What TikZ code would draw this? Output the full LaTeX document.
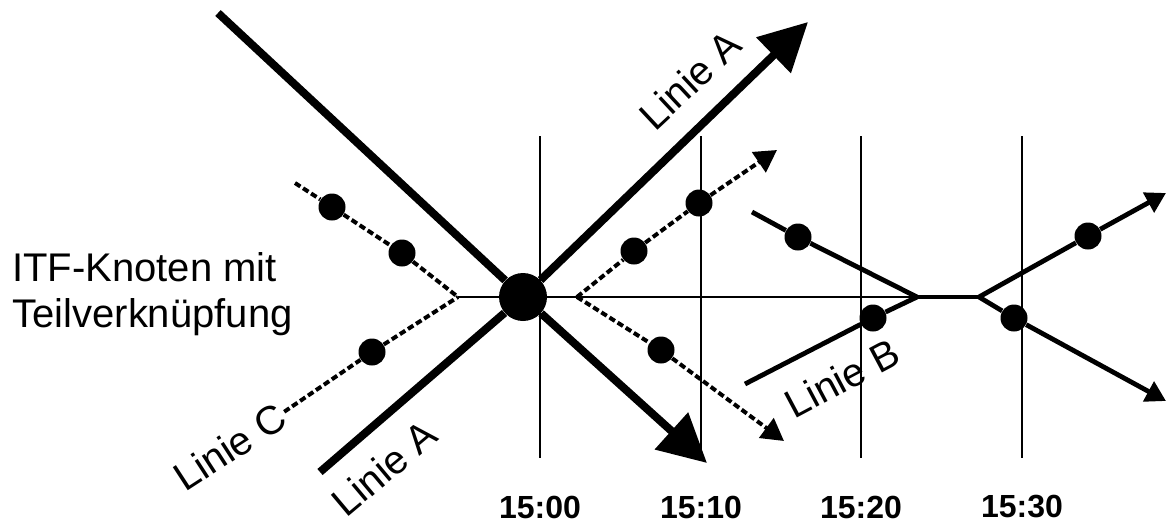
\documentclass[tikz,border=0pt]{standalone}
\usepackage{fontspec}
\setmainfont{Liberation Sans}
\usetikzlibrary{arrows.meta}
\tikzset{
  haupt/.style={line width=4pt},
  hauptpfeil/.style={haupt, -{Triangle[length=24pt, width=24pt]}},
  linb/.style={line width=2.4pt},
  linbpfeil/.style={linb, -{Triangle[length=10pt, width=11pt]}},
  strich/.style={line width=2pt, dash pattern=on 3.2pt off 1.6pt},
  strichpfeil/.style={strich, -{Triangle[length=11pt, width=12pt]}},
  raster/.style={line width=1pt},
  punkt/.style={circle, fill, inner sep=0pt, minimum size=13.5pt},
  knoten/.style={circle, fill, inner sep=0pt, minimum size=24pt},
  lbl/.style={font=\fontsize{20}{23}\selectfont, inner sep=1pt},
  zeit/.style={font=\fontsize{16}{18}\selectfont\bfseries},
}

\begin{document}
\begin{tikzpicture}[x=0.5pt, y=-0.5pt]
\useasboundingbox (0,0) rectangle (1168,525);

% ── Zeitraster ──────────────────────────────────────────────
\foreach \x/\t in {540/15:00, 701/15:10, 861/15:20, 1022/15:30}{
  \draw[raster] (\x,136) -- (\x,458);
  \node[zeit] (z\x) at (\x,507) {\t};
}

% ── ITF-Knoten ──────────────────────────────────────────────
\node[lbl, anchor=west, align=left] (itf) at (10,294) {ITF-Knoten mit\\Teilverknüpfung};
\coordinate (cjoin) at (458,297);
\coordinate (rjoin) at (577,297);
\coordinate (bconv) at (917,297);
\coordinate (bdiv) at (979,297);
\draw[line width=1.4pt] (cjoin) -- (bconv);
\node[knoten] (kn) at (523,297) {};

% ── Linie A ─────────────────────────────────────────────────
\coordinate (a1) at (218,13);
\coordinate (a2) at (707,463);
\coordinate (a3) at (320,472);
\coordinate (a4) at (808,22);
\draw[haupt] (a1) -- (kn);
\draw[hauptpfeil] (kn) -- (a2);
\draw[haupt] (a3) -- (kn);
\draw[hauptpfeil] (kn) -- (a4);
\node[lbl, rotate=43] (la1) at (690,80) {Linie A};
\node[lbl, rotate=40] (la2) at (384,468) {Linie A};

% ── Linie C ─────────────────────────────────────────────────
\node[lbl, rotate=33] (lc) at (230,447) {Linie C};
\coordinate (c1) at (295,183);
\node[punkt] (cu1) at (332,207) {};
\node[punkt] (cu2) at (402,253) {};
\node[punkt] (cl1) at (372,352) {};
\draw[strich] (c1) -- (cu1) -- (cu2) -- (cjoin);
\draw[strich] (lc.east) -- (cl1) -- (cjoin);
\node[punkt] (cr1) at (634,251) {};
\node[punkt] (cr2) at (699,203) {};
\node[punkt] (cr3) at (661,350) {};
\coordinate (c2) at (777,150);
\coordinate (c3) at (784,441);
\draw[strichpfeil] (rjoin) -- (cr1) -- (cr2) -- (c2);
\draw[strichpfeil] (rjoin) -- (cr3) -- (c3);

% ── Linie B ─────────────────────────────────────────────────
\coordinate (b1) at (752,212);
\coordinate (b2) at (745,384);
\coordinate (b3) at (1166,193);
\coordinate (b4) at (1166,401);
\node[punkt] (bu1) at (798,237) {};
\node[punkt] (bl1) at (873,318) {};
\node[punkt] (bu2) at (1088,236) {};
\node[punkt] (bl2) at (1014,318) {};
\draw[linb] (b1) -- (bu1) -- (bconv);
\draw[linb] (b2) -- (bl1) -- (bconv);
\draw[linb] (bconv) -- (bdiv);
\draw[linbpfeil] (bdiv) -- (bu2) -- (b3);
\draw[linbpfeil] (bdiv) -- (bl2) -- (b4);
\node[lbl, rotate=28] (lb) at (842,378) {Linie B};

\end{tikzpicture}
\end{document}
